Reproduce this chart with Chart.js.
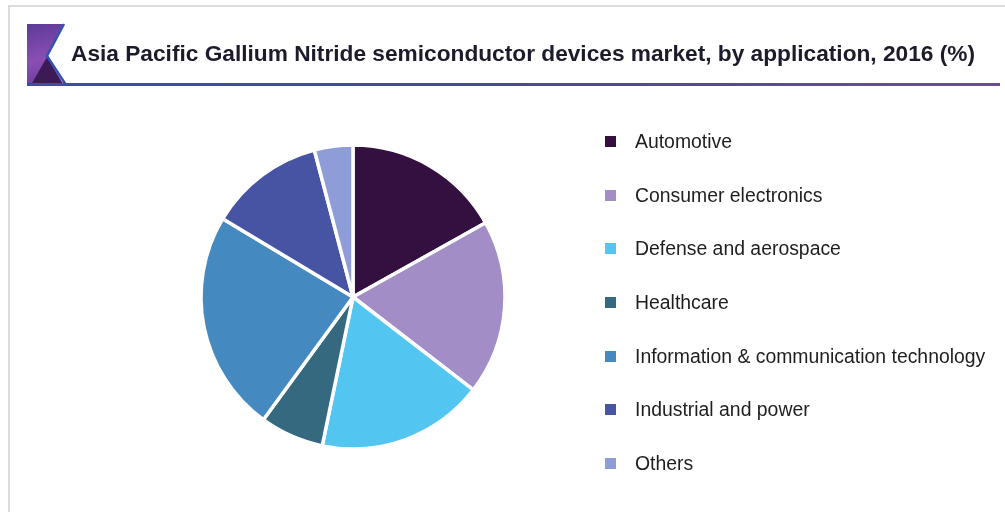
<!DOCTYPE html>
<html>
<head>
<meta charset="utf-8">
<script src="https://cdn.jsdelivr.net/npm/chart.js@4.4.1/dist/chart.umd.min.js"></script>
<style>
    html, body { margin: 0; padding: 0; background: #fff; }
    #wrap { position: relative; width: 1005px; height: 512px; }
    #pie-chart { position: absolute; left: 0; top: 0; }
    #legend {
        position: absolute; left: 605px; top: 115px; margin: 0; padding: 0; list-style: none;
        font-family: "Liberation Sans", Arial, sans-serif; font-size: 19.4px; color: #1e1e1e;
    }
    #legend li { height: 53.6px; display: flex; align-items: center; }
    #legend .box { width: 11px; height: 11px; margin-right: 19px; flex: none; }
</style>
</head>
<body>
<div id="wrap">
    <canvas id="pie-chart" width="1005" height="512"></canvas>
    <ul id="legend"></ul>
</div>
<script>
var chartTitle = "Asia Pacific Gallium Nitride semiconductor devices market, by application, 2016 (%)";
var applications = ["Automotive", "Consumer electronics", "Defense and aerospace", "Healthcare",
    "Information & communication technology", "Industrial and power", "Others"];
var shares = [16.9, 18.6, 17.8, 6.8, 23.6, 12.3, 4.1];
var sliceColors = ["#33103f", "#a28dc6", "#52c6f0", "#34697f", "#4489c0", "#4753a3", "#8e9cd8"];

// frame, corner badge, title and underline
var headerPlugin = {
    id: 'header',
    beforeDraw: function (chart) {
        var ctx = chart.ctx;
        ctx.save();

        ctx.strokeStyle = "#dcdcdc";
        ctx.lineWidth = 2;
        ctx.beginPath();
        ctx.moveTo(1005, 6);
        ctx.lineTo(9, 6);
        ctx.lineTo(9, 512);
        ctx.stroke();

        var g = ctx.createLinearGradient(27, 24, 40, 85);
        g.addColorStop(0, "#5d3a98");
        g.addColorStop(0.6, "#8a4fb2");
        g.addColorStop(1, "#6c3e9e");
        ctx.fillStyle = g;
        ctx.beginPath();
        ctx.moveTo(27, 24);
        ctx.lineTo(63, 24);
        ctx.lineTo(47, 56);
        ctx.lineTo(64, 85);
        ctx.lineTo(27, 85);
        ctx.closePath();
        ctx.fill();

        ctx.fillStyle = "#3b1a55";
        ctx.beginPath();
        ctx.moveTo(31, 85);
        ctx.lineTo(47, 57);
        ctx.lineTo(63, 85);
        ctx.closePath();
        ctx.fill();

        ctx.strokeStyle = "#3352b2";
        ctx.lineWidth = 2.5;
        ctx.beginPath();
        ctx.moveTo(64, 24);
        ctx.lineTo(47, 56);
        ctx.lineTo(66, 85);
        ctx.stroke();

        var lg = ctx.createLinearGradient(27, 0, 1000, 0);
        lg.addColorStop(0, "#3a4ea8");
        lg.addColorStop(0.5, "#4a4a92");
        lg.addColorStop(1, "#6a4d9a");
        ctx.strokeStyle = lg;
        ctx.lineWidth = 3;
        ctx.beginPath();
        ctx.moveTo(27, 84.5);
        ctx.lineTo(1000, 84.5);
        ctx.stroke();

        ctx.fillStyle = "#1b1b2b";
        ctx.font = "bold 22.7px 'Liberation Sans', Arial, sans-serif";
        ctx.textBaseline = "middle";
        ctx.fillText(chartTitle, 71, 55);
        ctx.restore();
    }
};

var pieChart = new Chart(document.getElementById("pie-chart"), {
    type: 'pie',
    data: {
        labels: applications,
        datasets: [{
            data: shares,
            backgroundColor: sliceColors,
            borderColor: "#ffffff",
            borderWidth: 3.5
        }]
    },
    options: {
        responsive: false,
        animation: false,
        radius: 152,
        layout: { padding: { left: 100, right: 399, top: 100, bottom: 18 } },
        plugins: {
            legend: { display: false },
            tooltip: { enabled: false }
        }
    },
    plugins: [headerPlugin]
});

// legend list built from the chart's own label items
var legendItems = pieChart.options.plugins.legend.labels.generateLabels(pieChart);
var ul = document.getElementById("legend");
legendItems.forEach(function (item) {
    var li = document.createElement("li");
    var box = document.createElement("span");
    box.className = "box";
    box.style.background = item.fillStyle;
    li.appendChild(box);
    li.appendChild(document.createTextNode(item.text));
    ul.appendChild(li);
});
</script>
</body>
</html>
